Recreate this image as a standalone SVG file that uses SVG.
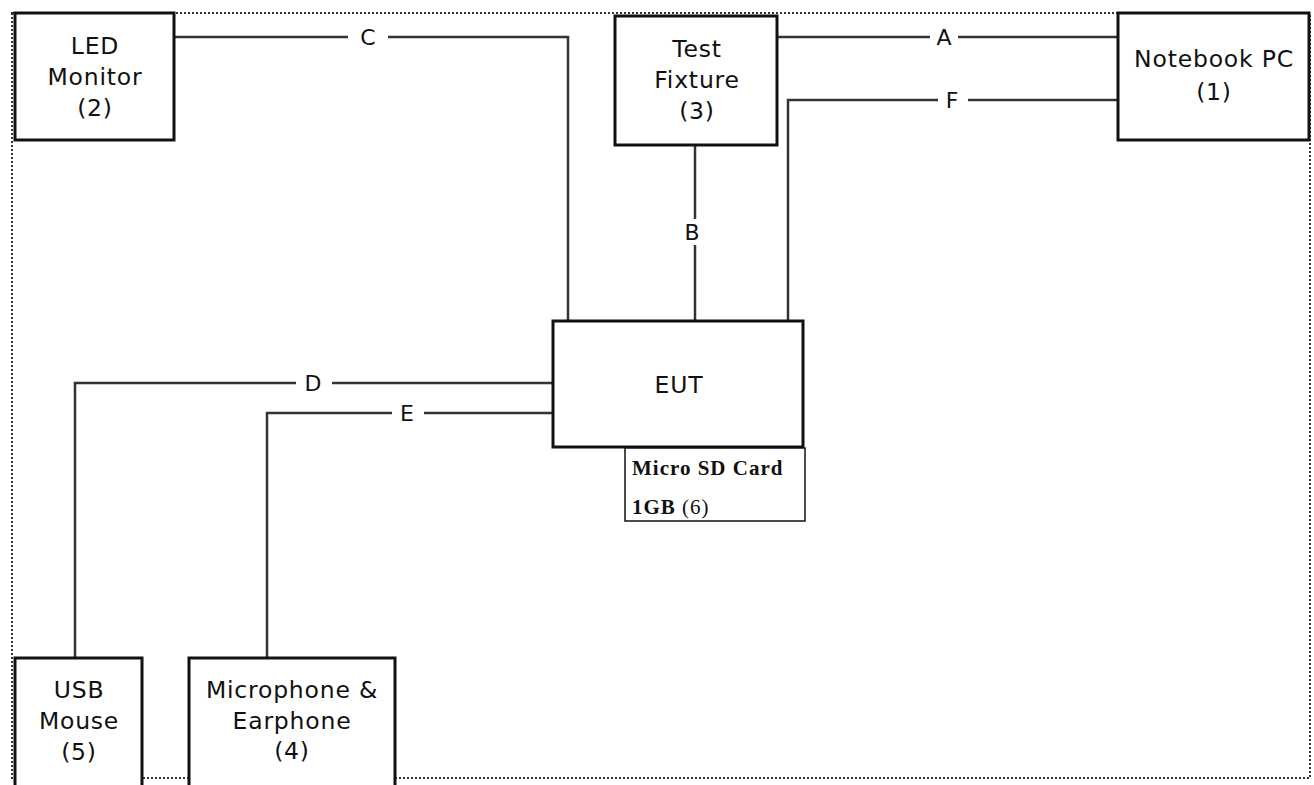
<svg xmlns="http://www.w3.org/2000/svg" width="1314" height="785" viewBox="0 0 1314 785">
<style>
.box{fill:#fff;stroke:#111;stroke-width:3}
.ln{fill:none;stroke:#333;stroke-width:2.5}
.t{font-family:"DejaVu Sans",Arial,sans-serif;font-size:23.5px;letter-spacing:0.8px;fill:#111;text-anchor:middle}
.lb{font-family:"DejaVu Sans",Arial,sans-serif;font-size:22px;fill:#111;text-anchor:middle}
.s{font-family:"Liberation Serif","Times New Roman",serif;font-size:21px;letter-spacing:1px;font-weight:bold;fill:#111}
</style>
<rect width="1314" height="785" fill="#fff"/>
<rect x="12" y="13" width="1298" height="765" fill="none" stroke="#333" stroke-width="2" stroke-dasharray="2 2"/>
<g id="connectors">
<polyline class="ln" points="174,37 568,37 568,320"/>
<line class="ln" x1="777" y1="37" x2="1118" y2="37"/>
<polyline class="ln" points="1118,100 788,100 788,320"/>
<line class="ln" x1="695" y1="145" x2="695" y2="320"/>
<polyline class="ln" points="553,383 75,383 75,657"/>
<polyline class="ln" points="553,413 267,413 267,657"/>
<rect x="348" y="25" width="40" height="24" fill="#fff"/>
<text class="lb" x="368" y="45">C</text>
<rect x="930" y="25" width="28" height="24" fill="#fff"/>
<text class="lb" x="944" y="45">A</text>
<rect x="938" y="88" width="30" height="24" fill="#fff"/>
<text class="lb" x="952" y="108">F</text>
<rect x="679" y="219" width="28" height="26" fill="#fff"/>
<text class="lb" x="692" y="240">B</text>
<rect x="296" y="371" width="36" height="24" fill="#fff"/>
<text class="lb" x="313" y="391">D</text>
<rect x="392" y="401" width="32" height="24" fill="#fff"/>
<text class="lb" x="407" y="421">E</text>
</g>
<g id="led-monitor">
<rect class="box" x="15" y="13" width="159" height="127"/>
<text class="t" x="95" y="54">LED</text>
<text class="t" x="95" y="85">Monitor</text>
<text class="t" x="95" y="116">(2)</text>
</g>
<g id="test-fixture">
<rect class="box" x="615" y="16" width="162" height="129"/>
<text class="t" x="697" y="57">Test</text>
<text class="t" x="697" y="88">Fixture</text>
<text class="t" x="697" y="119">(3)</text>
</g>
<g id="notebook-pc">
<rect class="box" x="1118" y="13" width="191" height="127"/>
<text class="t" x="1214" y="67">Notebook PC</text>
<text class="t" x="1214" y="100">(1)</text>
</g>
<g id="eut">
<rect class="box" x="553" y="321" width="250" height="126"/>
<text class="t" x="679" y="393">EUT</text>
</g>
<g id="micro-sd">
<rect x="625" y="448" width="180" height="73" fill="#fff" stroke="#111" stroke-width="1.5"/>
<text class="s" x="632" y="475">Micro SD Card</text>
<text class="s" x="632" y="514">1GB <tspan font-weight="normal">(6)</tspan></text>
</g>
<g id="usb-mouse">
<rect class="box" x="15" y="658" width="127" height="130"/>
<text class="t" x="79" y="698">USB</text>
<text class="t" x="79" y="729">Mouse</text>
<text class="t" x="79" y="760">(5)</text>
</g>
<g id="microphone-earphone">
<rect class="box" x="189" y="658" width="206" height="130"/>
<text class="t" x="292" y="698">Microphone &amp;</text>
<text class="t" x="292" y="729">Earphone</text>
<text class="t" x="292" y="759">(4)</text>
</g>
</svg>
